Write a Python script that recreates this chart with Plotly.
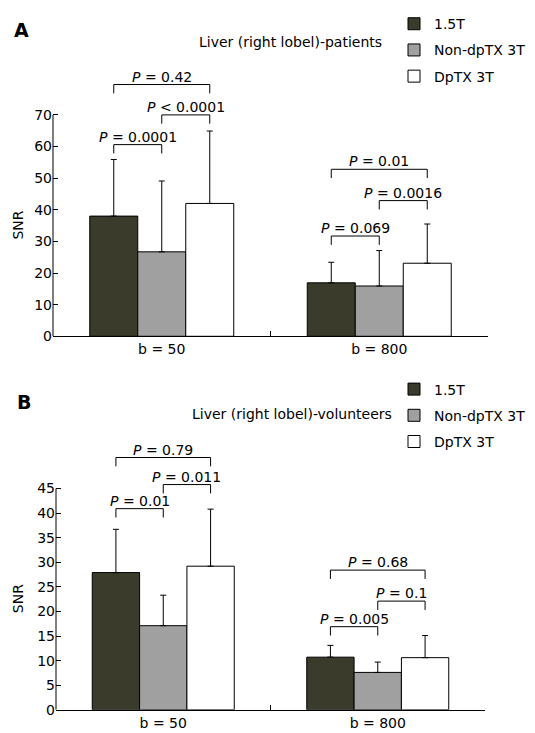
import plotly.graph_objects as go

# ---------------- data ----------------
categories = ["b = 50", "b = 800"]
series_names = ["1.5T", "Non-dpTX 3T", "DpTX 3T"]

patients_15t = [38.0, 16.9]
patients_nondptx = [26.7, 15.9]
patients_dptx = [42.0, 23.1]
patients_15t_sd = [17.9, 6.5]
patients_nondptx_sd = [22.4, 11.2]
patients_dptx_sd = [22.9, 12.4]

volunteers_15t = [27.9, 10.7]
volunteers_nondptx = [17.1, 7.6]
volunteers_dptx = [29.2, 10.6]
volunteers_15t_sd = [8.8, 2.4]
volunteers_nondptx_sd = [6.2, 2.1]
volunteers_dptx_sd = [11.6, 4.5]

# comparisons: category index, bar i, bar j, bracket level (SNR), p-value text
patients_comparisons = [
    (0, 0, 1, 60.6, "= 0.0001"),
    (0, 1, 2, 70.0, "< 0.0001"),
    (0, 0, 2, 79.6, "= 0.42"),
    (1, 0, 1, 31.7, "= 0.069"),
    (1, 1, 2, 42.9, "= 0.0016"),
    (1, 0, 2, 52.8, "= 0.01"),
]
volunteers_comparisons = [
    (0, 0, 1, 40.9, "= 0.01"),
    (0, 1, 2, 45.8, "= 0.011"),
    (0, 0, 2, 51.3, "= 0.79"),
    (1, 0, 1, 16.9, "= 0.005"),
    (1, 1, 2, 22.1, "= 0.1"),
    (1, 0, 2, 28.4, "= 0.68"),
]

patients_ticks = [0, 10, 20, 30, 40, 50, 60, 70]
volunteers_ticks = [0, 5, 10, 15, 20, 25, 30, 35, 40, 45]

# ---------------- styling / layout ----------------
W, H = 535, 733
FONT = "DejaVu Sans"
FS = 14
colors = ["#3a3b2b", "#a0a0a0", "#ffffff"]
BARGAP = 0.338
BW = (1 - BARGAP) / 3
LEG_PX = 9


def px2py(y):
    return (H - y) / H


def px2px(x):
    return x / W


panels = [
    dict(
        means=[patients_15t, patients_nondptx, patients_dptx],
        sds=[patients_15t_sd, patients_nondptx_sd, patients_dptx_sd],
        comps=patients_comparisons,
        ticks=patients_ticks,
        yrange=[0, 83],
        xdom=[px2px(45), px2px(480)],
        ydom=[px2py(328), px2py(60)],
        title="Liver (right lobel)-patients",
        title_xy=(376, 28),
        letter="A",
        letter_xy=(4, 15),
        legend_top=-7,
    ),
    dict(
        means=[volunteers_15t, volunteers_nondptx, volunteers_dptx],
        sds=[volunteers_15t_sd, volunteers_nondptx_sd, volunteers_dptx_sd],
        comps=volunteers_comparisons,
        ticks=volunteers_ticks,
        yrange=[0, 54],
        xdom=[px2px(48), px2px(477)],
        ydom=[px2py(709.3), px2py(438.2)],
        title="Liver (right lobel)-volunteers",
        title_xy=(386, 407),
        letter="B",
        letter_xy=(7, 395),
        legend_top=366,
    ),
]

fig = go.Figure()
shapes = []
annotations = []
layout_axes = {}

for p_idx, pn in enumerate(panels):
    sfx = "" if p_idx == 0 else str(p_idx + 1)
    xa, ya = "x" + sfx, "y" + sfx
    legend_name = "legend" if p_idx == 0 else "legend2"
    for s_idx, name in enumerate(series_names):
        fig.add_trace(go.Bar(
            x=categories,
            y=pn["means"][s_idx],
            name=name,
            xaxis=xa, yaxis=ya,
            marker=dict(color=colors[s_idx], line=dict(color="black", width=1)),
            error_y=dict(type="data", symmetric=False,
                         array=pn["sds"][s_idx],
                         arrayminus=[0] * len(categories),
                         color="black", thickness=1, width=3),
            legend=legend_name,
            legendgroup=f"{p_idx}-{s_idx}",
            showlegend=True,
        ))

    ppu = H * (pn["ydom"][1] - pn["ydom"][0]) / (pn["yrange"][1] - pn["yrange"][0])
    leg = LEG_PX / ppu

    # y axis line (only up to last tick)
    shapes.append(dict(type="line", xref=f"{xa} domain", yref=ya,
                       x0=0, x1=0, y0=0, y1=pn["ticks"][-1],
                       line=dict(color="black", width=1)))

    for (c, i, j, lvl, txt) in pn["comps"]:
        xi = c + (i - 1) * BW
        xj = c + (j - 1) * BW
        shapes.append(dict(
            type="path", xref=xa, yref=ya,
            path=f"M {xi} {lvl - leg} L {xi} {lvl} L {xj} {lvl} L {xj} {lvl - leg}",
            line=dict(color="black", width=1),
        ))
        annotations.append(dict(
            x=(xi + xj) / 2, y=lvl, xref=xa, yref=ya,
            text=f"<i>P</i> {txt}", showarrow=False,
            xanchor="center", yanchor="bottom", yshift=-2,
            font=dict(family=FONT, size=FS, color="black"),
        ))

    # SNR label centred on tick span
    annotations.append(dict(
        x=px2px(10), y=(pn["ticks"][0] + pn["ticks"][-1]) / 2,
        xref="paper", yref=ya, text="SNR", showarrow=False, textangle=-90,
        xanchor="center", yanchor="middle",
        font=dict(family=FONT, size=FS, color="black"),
    ))
    # panel title
    annotations.append(dict(
        x=px2px(pn["title_xy"][0]), y=px2py(pn["title_xy"][1]),
        xref="paper", yref="paper", text=pn["title"], showarrow=False,
        xanchor="right", yanchor="middle",
        font=dict(family=FONT, size=FS, color="black"),
    ))
    # panel letter
    annotations.append(dict(
        x=px2px(pn["letter_xy"][0]), y=px2py(pn["letter_xy"][1]),
        xref="paper", yref="paper", text=f"<b>{pn['letter']}</b>", showarrow=False,
        xanchor="left", yanchor="middle",
        font=dict(family="DejaVu Sans", size=19, color="black"),
    ))

    layout_axes["xaxis" + sfx] = dict(
        domain=pn["xdom"], anchor=ya, type="category", range=[-0.5, 1.5],
        showline=True, linecolor="black", linewidth=1,
        ticks="inside", tickson="boundaries", ticklen=5, tickcolor="black",
        showgrid=False, zeroline=False,
        tickfont=dict(family=FONT, size=FS, color="black"),
    )
    layout_axes["yaxis" + sfx] = dict(
        domain=pn["ydom"], anchor=xa, range=pn["yrange"],
        tickvals=pn["ticks"], ticks="inside", ticklen=5, tickcolor="black",
        showline=False, showgrid=False, zeroline=False,
        tickfont=dict(family=FONT, size=FS, color="black"),
    )
    layout_axes[legend_name] = dict(
        x=px2px(386), y=px2py(pn["legend_top"]), xanchor="left", yanchor="top",
        font=dict(family=FONT, size=FS, color="black"),
        tracegroupgap=5, bgcolor="rgba(0,0,0,0)",
    )

fig.update_layout(
    width=W, height=H,
    margin=dict(l=0, r=0, t=0, b=0),
    paper_bgcolor="white", plot_bgcolor="white",
    barmode="group", bargap=BARGAP, bargroupgap=0,
    shapes=shapes, annotations=annotations,
    font=dict(family=FONT, size=FS, color="black"),
    **layout_axes,
)

fig.write_html("out.html")
